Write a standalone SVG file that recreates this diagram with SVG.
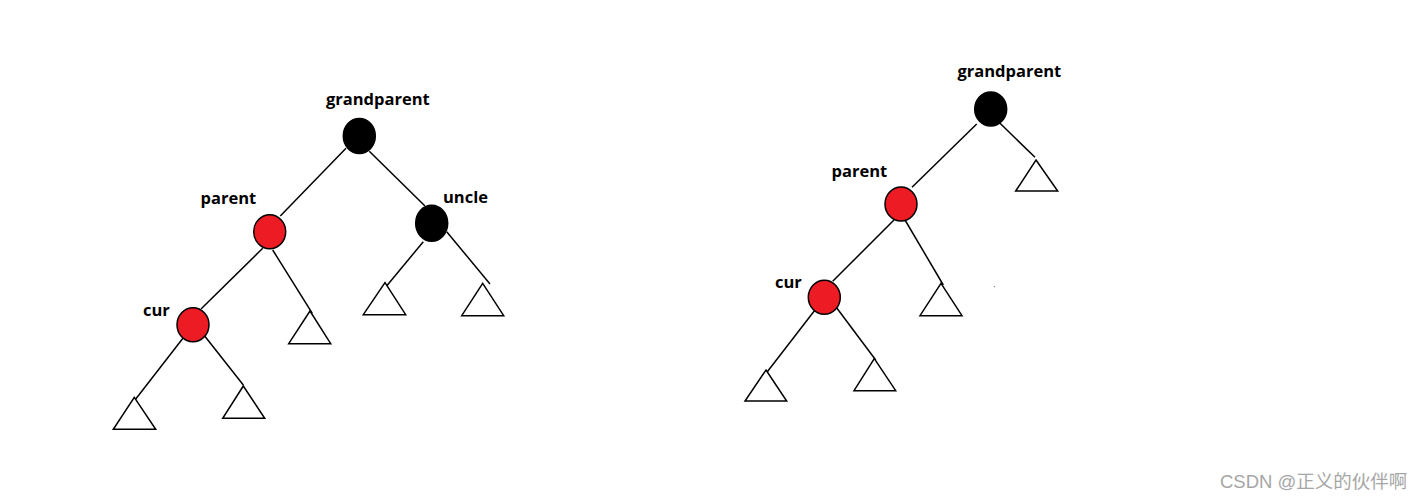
<svg xmlns="http://www.w3.org/2000/svg" width="1426" height="501" viewBox="0 0 1426 501">
<style>
.lbl{font-family:"Open Sans","Noto Sans",sans-serif;font-weight:bold;font-size:16.5px;fill:#000}
.blk{fill:#000;stroke:#000;stroke-width:1.5}
.red{fill:#ED1C24;stroke:#000;stroke-width:1.5}
.tri{fill:#fff;stroke:#000;stroke-width:1.5;stroke-linejoin:miter}
.edge{stroke:#000;stroke-width:1.5;fill:none}
.wm{font-family:"Liberation Sans","Noto Sans CJK SC",sans-serif;font-size:18.5px;fill:#a6a6a6}
</style>
<rect width="1426" height="501" fill="#fff"/>
<g id="connectors">
<line class="edge" x1="346" y1="148.3" x2="280.3" y2="216"/>
<line class="edge" x1="369.3" y1="151.3" x2="425" y2="206"/>
<line class="edge" x1="262.7" y1="248.3" x2="201" y2="309"/>
<line class="edge" x1="272.7" y1="250" x2="312.3" y2="313.3"/>
<line class="edge" x1="423.3" y1="241.7" x2="386" y2="286.7"/>
<line class="edge" x1="446.7" y1="231.7" x2="490" y2="284"/>
<line class="edge" x1="183.3" y1="337.7" x2="135" y2="400"/>
<line class="edge" x1="203.3" y1="334.3" x2="243.3" y2="385"/>
<line class="edge" x1="976.7" y1="124" x2="912" y2="187.3"/>
<line class="edge" x1="1000" y1="123.3" x2="1035" y2="157.3"/>
<line class="edge" x1="894" y1="220" x2="832.7" y2="281.3"/>
<line class="edge" x1="905" y1="220" x2="943.3" y2="285"/>
<line class="edge" x1="815" y1="310" x2="767.3" y2="371.7"/>
<line class="edge" x1="835.3" y1="306" x2="875.7" y2="360"/>
</g>
<g id="left-grandparent"><ellipse class="blk" cx="359.3" cy="136" rx="16" ry="17.5"/><text class="lbl" x="326" y="105">grandparent</text></g>
<g id="left-parent"><ellipse class="red" cx="269.7" cy="231.7" rx="16" ry="17"/><text class="lbl" x="200.5" y="204">parent</text></g>
<g id="left-uncle"><ellipse class="blk" cx="431.7" cy="223.3" rx="16" ry="18"/><text class="lbl" x="443" y="203">uncle</text></g>
<g id="left-cur"><ellipse class="red" cx="193" cy="324.7" rx="16" ry="17"/><text class="lbl" x="143" y="315.5">cur</text></g>
<g id="left-tri-parent-right"><polygon class="tri" points="310,311 330.7,343.7 288.7,343.7"/></g>
<g id="left-tri-uncle-left"><polygon class="tri" points="385,282.7 405.7,314.7 363.3,314.7"/></g>
<g id="left-tri-uncle-right"><polygon class="tri" points="482.7,283.3 503.7,315.7 461.7,315.7"/></g>
<g id="left-tri-cur-left"><polygon class="tri" points="134.3,397.3 155.7,429.3 113.3,429.3"/></g>
<g id="left-tri-cur-right"><polygon class="tri" points="243.3,386 264.7,418.3 222.7,418.3"/></g>
<g id="right-grandparent"><ellipse class="blk" cx="990.7" cy="109" rx="16" ry="17"/><text class="lbl" x="957.5" y="77">grandparent</text></g>
<g id="right-parent"><ellipse class="red" cx="901" cy="204" rx="16" ry="17"/><text class="lbl" x="831.5" y="177">parent</text></g>
<g id="right-cur"><ellipse class="red" cx="824.3" cy="297.3" rx="16" ry="17"/><text class="lbl" x="775" y="288">cur</text></g>
<g id="right-tri-gp-right"><polygon class="tri" points="1036,160 1057.7,191 1015.7,191"/></g>
<g id="right-tri-parent-right"><polygon class="tri" points="941,283.3 962,315.7 920,315.7"/></g>
<g id="right-tri-cur-left"><polygon class="tri" points="766,370 786.7,401 745,401"/></g>
<g id="right-tri-cur-right"><polygon class="tri" points="874.3,358.7 895.7,390.7 854,390.7"/></g>
<rect x="993.8" y="286.2" width="1" height="1" fill="#555"/>
<text class="wm" x="1220" y="488">CSDN @正义的伙伴啊</text>
</svg>
